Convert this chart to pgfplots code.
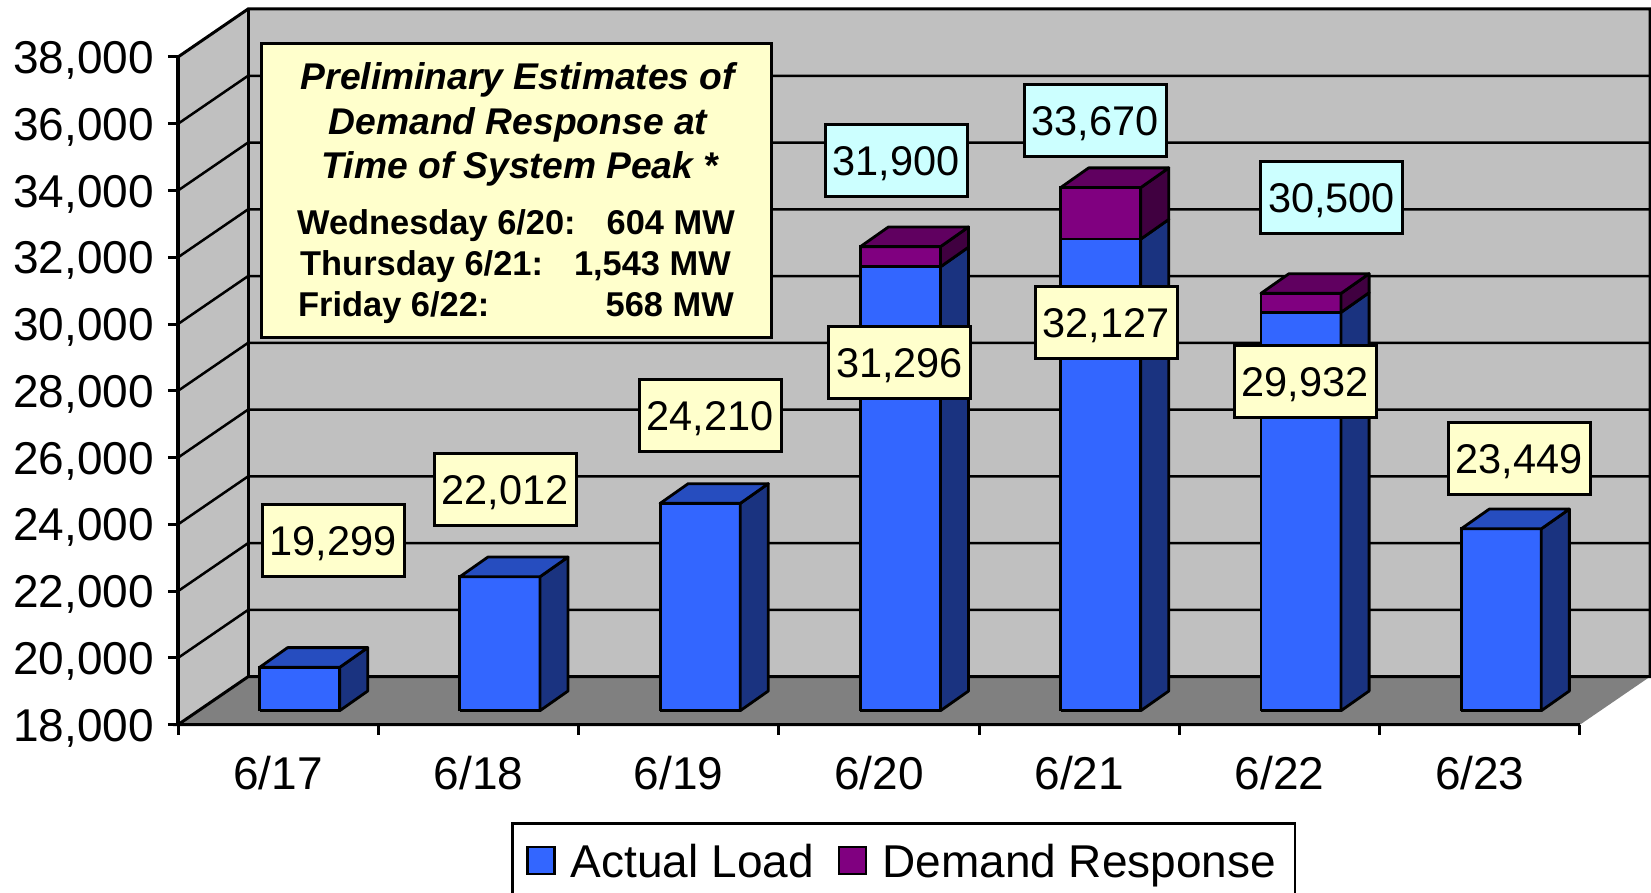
\documentclass[border=0pt]{standalone}
\usepackage{fontspec}
\setmainfont{Liberation Sans}
\usepackage{pgfplots}
\pgfplotsset{compat=1.18}
\definecolor{wall}{HTML}{C0C0C0}
\definecolor{floorc}{HTML}{808080}
\definecolor{blueF}{HTML}{3366FF}
\definecolor{blueT}{HTML}{264DBF}
\definecolor{blueS}{HTML}{1A3380}
\definecolor{purF}{HTML}{800080}
\definecolor{purT}{HTML}{600060}
\definecolor{purS}{HTML}{400040}
\definecolor{noteY}{HTML}{FFFFCC}
\definecolor{noteC}{HTML}{CCFFFF}
\newcommand\fticks{\fontsize{46}{54}\selectfont}
\newcommand\flab{\fontsize{41.5}{49}\selectfont}
\newcommand\ftitle{\fontsize{37.2}{44}\selectfont\bfseries\itshape}
\newcommand\fbody{\fontsize{34.4}{41}\selectfont\bfseries}
\tikzset{
  lab/.style={draw=black,line width=3pt,inner sep=0pt,minimum width=142pt,minimum height=72pt,
    font=\flab,text height=29.4pt,text depth=0pt,anchor=center},
  ylab/.style={lab,fill=noteY},
  clab/.style={lab,fill=noteC},
  tt/.style={font=\ftitle,anchor=base,inner sep=0pt},
  bl/.style={font=\fbody,anchor=base west,inner sep=0pt},
  br/.style={font=\fbody,anchor=base east,inner sep=0pt},
  poly/.style={draw=black,line width=2.8pt,line join=round}
}
\pgfplotsset{
  frame3d/.style={scale only axis,width=1402pt,height=667.7pt,xmin=0,xmax=7,ymin=18000,ymax=38000,enlargelimits=false},
  swatch/.style={legend image code/.code={\draw[##1,draw=black,line width=2.5pt] (1.5pt,-8.5pt) rectangle (28.5pt,18.5pt);}}
}
\begin{document}
\begin{tikzpicture}
\path[use as bounding box] (0pt,0pt) rectangle (1651pt,892pt);
% --- walls, floor, axes
\begin{axis}[frame3d,at={(178pt,167.3pt)},anchor=south west,clip=false,
  axis x line=bottom,axis y line=left,axis line style={-,line width=3.2pt},
  tick align=outside,major tick length=10pt,minor tick length=10pt,
  ytick={18000,20000,22000,24000,26000,28000,30000,32000,34000,36000,38000},
  xtick={0.5,1.5,2.5,3.5,4.5,5.5,6.5},
  xticklabels={6/17,6/18,6/19,6/20,6/21,6/22,6/23},
  minor xtick={0,1,2,3,4,5,6,7},
  major x tick style={draw=none},
  minor x tick style={black,line width=3pt},
  y tick style={black,line width=3pt},
  scaled y ticks=false,
  y tick label style={/pgf/number format/fixed,/pgf/number format/1000 sep={,},/pgf/number format/assume math mode=true,
     font=\fticks,anchor=base east,inner sep=0pt,xshift=-14pt,yshift=-16.5pt},
  x tick label style={font=\fticks,anchor=base,inner sep=0pt,yshift=-55pt},
]
\addplot[fill=wall,draw=none] coordinates {(0,18000)(0.35,19438)(0.35,39438)(0,38000)} -- cycle;
\addplot[fill=wall,draw=none] coordinates {(0.35,19438)(7.35,19438)(7.35,39438)(0.35,39438)} -- cycle;
\addplot[fill=floorc,draw=none] coordinates {(0,18000)(7,18000)(7.35,19438)(0.35,19438)} -- cycle;
\addplot[black,line width=2.5pt] coordinates {(0,20000)(0.35,21438)(7.35,21438)};
\addplot[black,line width=2.5pt] coordinates {(0,22000)(0.35,23438)(7.35,23438)};
\addplot[black,line width=2.5pt] coordinates {(0,24000)(0.35,25438)(7.35,25438)};
\addplot[black,line width=2.5pt] coordinates {(0,26000)(0.35,27438)(7.35,27438)};
\addplot[black,line width=2.5pt] coordinates {(0,28000)(0.35,29438)(7.35,29438)};
\addplot[black,line width=2.5pt] coordinates {(0,30000)(0.35,31438)(7.35,31438)};
\addplot[black,line width=2.5pt] coordinates {(0,32000)(0.35,33438)(7.35,33438)};
\addplot[black,line width=2.5pt] coordinates {(0,34000)(0.35,35438)(7.35,35438)};
\addplot[black,line width=2.5pt] coordinates {(0,36000)(0.35,37438)(7.35,37438)};
\addplot[black,line width=3pt,line join=miter] coordinates {(0,38000)(0.35,39438)(7.35,39438)(7.35,19438)(0.35,19438)(0,18000)(7,18000)};
\addplot[black,line width=3pt] coordinates {(0,18000)(0,38000)};
\addplot[black,line width=3pt] coordinates {(0.35,19438)(0.35,39438)};
\end{axis}
% --- front faces of the bars
\begin{axis}[frame3d,at={(199.5pt,181.3pt)},anchor=south west,hide axis,
  ybar stacked,bar width=0.4,
  legend columns=2,
  legend cell align=left,
  legend style={at={(0.2223,-0.1667)},anchor=north west,draw=black,line width=2.5pt,fill=white,
     font=\fontsize{46}{46}\selectfont,inner xsep=14pt,inner ysep=0pt,
     nodes={inner sep=0pt,text depth=30pt,text height=54pt},
     /tikz/every odd column/.append style={column sep=15pt},
     /tikz/every even column/.append style={column sep=24pt}},
]
\addplot[fill=blueF,draw=black,line width=2.8pt,swatch] coordinates {(0.5,19299)(1.5,22012)(2.5,24210)(3.5,31296)(4.5,32127)(5.5,29932)(6.5,23449)};
\addplot[fill=purF,draw=black,line width=2.8pt,swatch] coordinates {(0.5,0)(1.5,0)(2.5,0)(3.5,604)(4.5,1543)(5.5,568)(6.5,0)};
\legend{Actual Load,Demand Response\hspace*{5pt}}
\end{axis}
% --- sides, tops and base edges of the bars
\begin{axis}[frame3d,at={(199.5pt,181.3pt)},anchor=south west,hide axis,clip=false]
% 6/17
\addplot[poly,fill=blueS] coordinates {(0.7,18000)(0.84,18590)(0.84,19889)(0.7,19299)} -- cycle;
\addplot[poly,fill=blueT] coordinates {(0.3,19299)(0.44,19889)(0.84,19889)(0.7,19299)} -- cycle;
\addplot[poly] coordinates {(0.3,18000)(0.7,18000)};
% 6/18
\addplot[poly,fill=blueS] coordinates {(1.7,18000)(1.84,18590)(1.84,22602)(1.7,22012)} -- cycle;
\addplot[poly,fill=blueT] coordinates {(1.3,22012)(1.44,22602)(1.84,22602)(1.7,22012)} -- cycle;
\addplot[poly] coordinates {(1.3,18000)(1.7,18000)};
% 6/19
\addplot[poly,fill=blueS] coordinates {(2.7,18000)(2.84,18590)(2.84,24800)(2.7,24210)} -- cycle;
\addplot[poly,fill=blueT] coordinates {(2.3,24210)(2.44,24800)(2.84,24800)(2.7,24210)} -- cycle;
\addplot[poly] coordinates {(2.3,18000)(2.7,18000)};
% 6/20
\addplot[poly,fill=blueS] coordinates {(3.7,18000)(3.84,18590)(3.84,31886)(3.7,31296)} -- cycle;
\addplot[poly,fill=purS] coordinates {(3.7,31296)(3.84,31886)(3.84,32490)(3.7,31900)} -- cycle;
\addplot[poly,fill=purT] coordinates {(3.3,31900)(3.44,32490)(3.84,32490)(3.7,31900)} -- cycle;
\addplot[poly] coordinates {(3.3,18000)(3.7,18000)};
% 6/21
\addplot[poly,fill=blueS] coordinates {(4.7,18000)(4.84,18590)(4.84,32717)(4.7,32127)} -- cycle;
\addplot[poly,fill=purS] coordinates {(4.7,32127)(4.84,32717)(4.84,34260)(4.7,33670)} -- cycle;
\addplot[poly,fill=purT] coordinates {(4.3,33670)(4.44,34260)(4.84,34260)(4.7,33670)} -- cycle;
\addplot[poly] coordinates {(4.3,18000)(4.7,18000)};
% 6/22
\addplot[poly,fill=blueS] coordinates {(5.7,18000)(5.84,18590)(5.84,30522)(5.7,29932)} -- cycle;
\addplot[poly,fill=purS] coordinates {(5.7,29932)(5.84,30522)(5.84,31090)(5.7,30500)} -- cycle;
\addplot[poly,fill=purT] coordinates {(5.3,30500)(5.44,31090)(5.84,31090)(5.7,30500)} -- cycle;
\addplot[poly] coordinates {(5.3,18000)(5.7,18000)};
% 6/23
\addplot[poly,fill=blueS] coordinates {(6.7,18000)(6.84,18590)(6.84,24039)(6.7,23449)} -- cycle;
\addplot[poly,fill=blueT] coordinates {(6.3,23449)(6.44,24039)(6.84,24039)(6.7,23449)} -- cycle;
\addplot[poly] coordinates {(6.3,18000)(6.7,18000)};
\end{axis}
% --- annotation boxes (page positions: x, 892 - y)
\node[ylab] at (333pt,351pt) {19,299};
\node[ylab] at (505pt,402pt) {22,012};
\node[ylab] at (710pt,476pt) {24,210};
\node[ylab] at (899.5pt,529pt) {31,296};
\node[ylab] at (1106pt,569pt) {32,127};
\node[ylab] at (1305pt,510pt) {29,932};
\node[ylab] at (1519pt,433.5pt) {23,449};
\node[clab] at (896pt,731.5pt) {31,900};
\node[clab] at (1095pt,771pt) {33,670};
\node[clab] at (1331.5pt,694pt) {30,500};
% --- information box
\node[draw=black,line width=3pt,fill=noteY,minimum width=510pt,minimum height=294pt,inner sep=0pt,anchor=north west] at (259.5pt,850pt) {};
\node[tt] at (518pt,802pt) {Preliminary Estimates of};
\node[tt] at (518pt,757.5pt) {Demand Response at};
\node[tt] at (520pt,713pt) {Time of System Peak *};
\node[bl] at (297pt,657.5pt) {Wednesday 6/20:};
\node[br] at (735pt,657.5pt) {604 MW};
\node[bl] at (300pt,616pt) {Thursday 6/21:};
\node[br] at (731pt,616pt) {1,543 MW};
\node[bl] at (298pt,575pt) {Friday 6/22:};
\node[br] at (734pt,575pt) {568 MW};
\end{tikzpicture}
\end{document}
